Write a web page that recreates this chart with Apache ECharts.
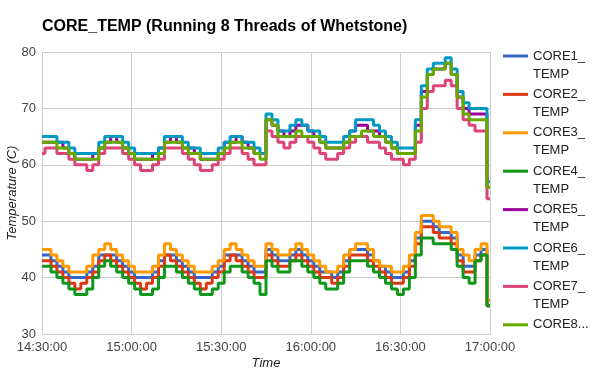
<!DOCTYPE html>
<html>
<head>
<meta charset="utf-8">
<script src="https://cdn.jsdelivr.net/npm/echarts@6/dist/echarts.min.js"></script>
<style>
html,body{margin:0;padding:0;background:#fff;}
#chart{width:605px;height:374px;}
</style>
</head>
<body>
<div id="chart"></div>
<script>
// Time axis: samples every 2 minutes from 14:30:00 to 17:00:00
const startMinutes = 14 * 60 + 30;
const stepMinutes = 2;
const sampleCount = 76;
const tickEvery = 15; // one label per 30 minutes

const seriesNames = ['CORE1_TEMP','CORE2_TEMP','CORE3_TEMP','CORE4_TEMP','CORE5_TEMP','CORE6_TEMP','CORE7_TEMP','CORE8_TEMP'];
const legendLabels = ['CORE1_\nTEMP','CORE2_\nTEMP','CORE3_\nTEMP','CORE4_\nTEMP','CORE5_\nTEMP','CORE6_\nTEMP','CORE7_\nTEMP','CORE8...\n '];
const colors = ['#3366cc','#dc3912','#ff9900','#109618','#990099','#0099c6','#dd4477','#66aa00'];

const core1 = [44,44,43,42,41,40,40,40,41,42,44,44,44,43,42,41,40,40,40,41,43,44,44,43,42,41,40,40,40,41,42,44,44,44,43,42,41,41,45,44,43,43,44,45,44,43,42,41,41,40,41,43,45,45,45,44,43,42,41,40,40,41,43,47,50,50,49,48,48,47,44,42,42,44,45,35];
const core2 = [43,43,42,41,40,39,38,39,40,41,43,44,43,42,41,40,39,38,39,40,42,44,43,42,41,40,39,38,39,40,41,43,44,43,42,41,40,40,44,43,42,42,43,44,43,42,41,40,40,39,40,42,44,44,44,43,42,41,40,39,39,40,42,46,49,49,48,47,47,46,43,41,41,43,44,35];
const core3 = [45,45,44,43,42,41,41,41,42,44,45,46,45,44,43,42,41,41,41,42,44,46,45,44,43,42,41,41,41,42,43,45,46,45,44,43,42,42,46,45,44,44,45,46,45,44,43,42,41,41,42,44,45,46,46,45,43,42,42,41,41,42,44,48,51,51,50,49,49,48,45,44,43,45,46,36];
const core4 = [42,42,41,40,39,38,37,37,38,40,42,43,42,41,40,39,38,37,37,38,40,42,42,41,40,39,38,37,37,38,39,41,42,42,41,40,39,37,43,42,41,41,43,43,42,41,40,39,38,38,39,41,43,43,43,42,41,40,39,38,37,38,40,44,47,47,46,46,46,45,42,40,39,43,44,35];
const core5 = [64,64,64,64,63,62,61,61,61,62,63,64,65,64,63,62,61,61,61,62,63,64,65,64,63,63,62,61,61,61,62,64,64,65,64,63,62,62,68,67,66,65,66,67,67,66,65,64,63,63,63,64,66,67,67,66,66,65,64,63,62,62,62,67,73,76,77,77,78,76,72,70,69,69,69,56];
const core6 = [65,65,65,64,64,63,62,62,62,62,64,65,65,65,64,63,62,62,62,62,63,65,65,65,64,63,63,62,62,62,63,64,65,65,64,64,63,62,69,68,66,66,67,68,67,66,66,65,64,64,64,65,66,68,68,68,67,66,65,64,63,63,63,68,74,77,78,78,79,77,73,71,70,70,70,57];
const core7 = [62,63,63,62,62,61,60,60,59,60,62,63,63,63,62,61,60,59,59,60,61,63,63,63,62,61,60,59,59,60,61,62,63,63,62,61,60,60,66,65,64,63,64,65,65,64,63,62,61,61,62,63,64,65,65,64,64,63,62,61,61,60,61,64,70,73,74,74,75,74,70,68,67,66,66,54];
const core8 = [64,64,64,63,63,62,61,61,61,61,63,64,64,64,63,62,61,61,61,61,62,64,64,64,63,62,62,61,61,61,62,63,64,64,63,63,62,61,68,67,65,65,65,66,65,65,65,64,63,63,63,64,65,65,66,66,65,65,64,63,62,62,62,66,72,76,77,77,78,76,72,69,68,68,68,56];
const seriesValues = [core1, core2, core3, core4, core5, core6, core7, core8];

const yTicks = {min: 30, max: 80, interval: 10};

function pad(n){ return (n < 10 ? '0' : '') + n; }
const times = [];
for (let i = 0; i < sampleCount; i++) {
  const m = startMinutes + i * stepMinutes;
  times.push(pad(Math.floor(m / 60)) + ':' + pad(m % 60) + ':00');
}

const FONT = '"Liberation Sans", Arial, sans-serif';
const chart = echarts.init(document.getElementById('chart'), null, {renderer: 'canvas'});
const labelMap = {};
// leading empty line keeps the legend line beside the first text line
seriesNames.forEach((n, i) => { labelMap[n] = '\n' + legendLabels[i]; });

chart.setOption({
  animation: false,
  backgroundColor: '#fff',
  color: colors,
  title: {
    text: 'CORE_TEMP (Running 8 Threads of Whetstone)',
    left: 42, top: 19, padding: 0,
    textStyle: {fontFamily: FONT, fontSize: 16, fontWeight: 'bold', color: '#000'}
  },
  legend: {
    orient: 'vertical',
    left: 503, top: 29, padding: 0,
    itemGap: -15.6,
    itemWidth: 25, itemHeight: 3,
    icon: 'rect',
    selectedMode: false,
    data: seriesNames,
    formatter: n => labelMap[n],
    textStyle: {fontFamily: FONT, fontSize: 13, color: '#222', lineHeight: 18}
  },
  grid: {left: 42, right: 115, top: 52, bottom: 40, outerBoundsMode: 'none', containLabel: false},
  xAxis: {
    type: 'category',
    boundaryGap: false,
    data: times,
    axisTick: {show: false},
    axisLine: {show: true, lineStyle: {color: '#ccc'}},
    axisLabel: {interval: tickEvery - 1, margin: 7, color: '#444', fontFamily: FONT, fontSize: 13, showMinLabel: true, showMaxLabel: true},
    splitLine: {show: true, interval: tickEvery - 1, lineStyle: {color: '#ccc', width: 1}},
    name: 'Time', nameLocation: 'middle', nameGap: 23, nameMoveOverlap: false,
    nameTextStyle: {fontFamily: FONT, fontSize: 13, fontStyle: 'italic', color: '#222'}
  },
  yAxis: {
    type: 'value',
    min: yTicks.min, max: yTicks.max, interval: yTicks.interval,
    axisLine: {show: false},
    axisTick: {show: false},
    axisLabel: {margin: 6, color: '#444', fontFamily: FONT, fontSize: 13},
    splitLine: {show: true, lineStyle: {color: '#ccc', width: 1}},
    name: 'Temperature (C)', nameLocation: 'middle', nameGap: 23, nameMoveOverlap: false,
    nameTextStyle: {fontFamily: FONT, fontSize: 13, fontStyle: 'italic', color: '#222'}
  },
  series: seriesNames.map((n, i) => ({
    name: n,
    type: 'line',
    step: 'middle',
    data: seriesValues[i],
    symbol: 'none',
    showSymbol: false,
    lineStyle: {width: 3, color: colors[i]},
    itemStyle: {color: colors[i]}
  }))
});
</script>
</body>
</html>
